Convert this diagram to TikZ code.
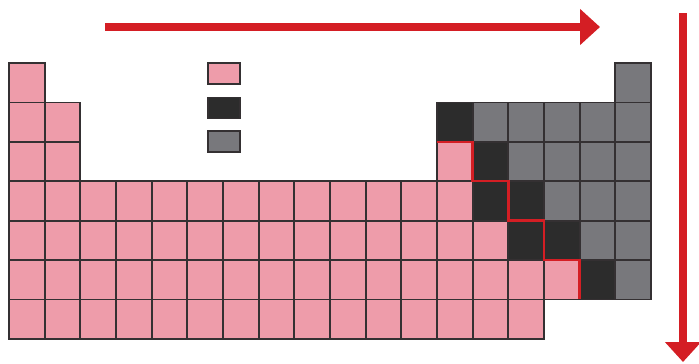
\documentclass[tikz,border=0pt]{standalone}
\usepackage{tikz}
\usetikzlibrary{arrows.meta}

\definecolor{metalpink}{RGB}{238,156,170}
\definecolor{semidark}{RGB}{44,44,44}
\definecolor{nonmetalgray}{RGB}{120,120,124}
\definecolor{trendred}{RGB}{212,30,36}
\definecolor{cellline}{RGB}{52,48,50}

\begin{document}
\begin{tikzpicture}[
    x=1pt, y=-1pt,
    cell/.style={draw=cellline, line width=1.8pt, inner sep=0pt, outer sep=0pt, minimum width=35.67pt, minimum height=39.4pt},
    metal/.style={cell, fill=metalpink},
    metalloid/.style={cell, fill=semidark},
    nonmetal/.style={cell, fill=nonmetalgray},
    legend/.style={draw=cellline, line width=1.4pt, inner sep=0pt, minimum width=32pt, minimum height=21pt},
    trend/.style={-{Triangle[length=20pt, width=35pt]}, line width=8pt, trendred},
    border/.style={trendred, line width=2.5pt}
  ]
    \useasboundingbox (0,0) rectangle (699,364);
    % cells: row / first column / last column / kind
    \foreach \r/\a/\b/\k in {1/1/1/metal, 1/18/18/nonmetal,
        2/1/2/metal, 2/13/13/metalloid, 2/14/18/nonmetal,
        3/1/2/metal, 3/13/13/metal, 3/14/14/metalloid, 3/15/18/nonmetal,
        4/1/13/metal, 4/14/15/metalloid, 4/16/18/nonmetal,
        5/1/14/metal, 5/15/16/metalloid, 5/17/18/nonmetal,
        6/1/16/metal, 6/17/17/metalloid, 6/18/18/nonmetal,
        7/1/15/metal}
      \foreach \c in {\a,...,\b}
        \node[style=\k] (c\r-\c) at ({9+(\c-0.5)*35.67}, {63+(\r-0.5)*39.4}) {};
    % legend
    \node[legend, fill=metalpink] (legmetal) at (224,73.5) {};
    \node[legend, fill=semidark] (legmetalloid) at (224,108) {};
    \node[legend, fill=nonmetalgray] (legnonmetal) at (224,141.5) {};
    % staircase
    \draw[border] (c3-13.north west) -- (c3-13.north east) -- (c3-13.south east)
      -- (c4-14.north east) -- (c4-14.south east)
      -- (c5-15.north east) -- (c5-15.south east)
      -- (c6-16.north east) -- (c6-16.south east);
    % trends
    \coordinate (rowstart) at (105,27);
    \coordinate (rowend) at (600,27);
    \coordinate (colstart) at (683,13);
    \coordinate (colend) at (683,362);
    \draw[trend] (rowstart) -- (rowend);
    \draw[trend] (colstart) -- (colend);
  \end{tikzpicture}
\end{document}
